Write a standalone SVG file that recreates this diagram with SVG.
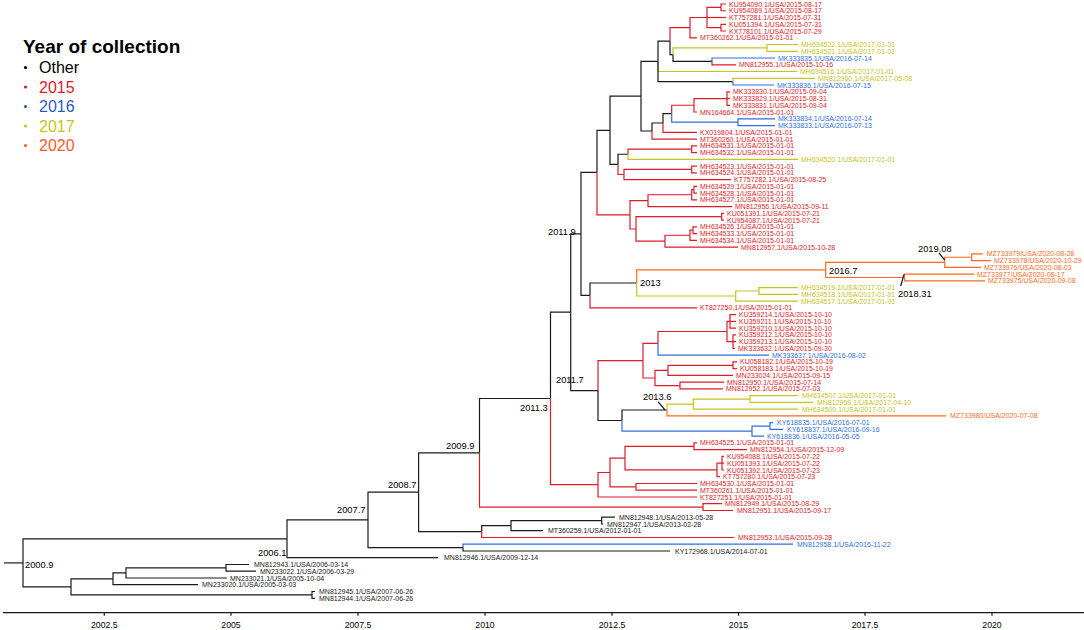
<svg xmlns="http://www.w3.org/2000/svg" width="1084" height="630" viewBox="0 0 1084 630">
<style>
path{fill:none;stroke-width:1.2}
.k{stroke:#1a1a1a}.r{stroke:#dd1c2a}.b{stroke:#2f6fe0}.y{stroke:#c6c41c}.o{stroke:#ff6a1e}
text{font-family:"Liberation Sans",Arial,sans-serif}
.t{font-size:7px}
.tk{fill:#1a1a1a}.tr{fill:#dd1c2a}.tb{fill:#2f6fe0}.ty{fill:#c6c41c}.to{fill:#ff6a1e}
.n{font-size:9.3px;fill:#000}
.ax{font-size:8.7px;fill:#000;text-anchor:middle}
.lg{font-size:16px}
</style>
<g id="legend">
<text x="23" y="53" style="font-size:19px;font-weight:bold">Year of collection</text>
<circle cx="25.5" cy="67.5" r="1.6" fill="#000"/><text class="lg" x="39" y="73" fill="#000">Other</text>
<circle cx="25.5" cy="87" r="1.6" fill="#dd1c2a"/><text class="lg" x="39" y="92.5" fill="#dd1c2a">2015</text>
<circle cx="25.5" cy="106.5" r="1.6" fill="#2a5cc0"/><text class="lg" x="39" y="112" fill="#2a5cc0">2016</text>
<circle cx="25.5" cy="126" r="1.6" fill="#c6c41c"/><text class="lg" x="39" y="131.5" fill="#c6c41c">2017</text>
<circle cx="25.5" cy="145.5" r="1.6" fill="#ff5a1e"/><text class="lg" x="39" y="151" fill="#ff5a1e">2020</text>
</g>
<g id="axis">
<path class="k" d="M3 612.7H1084M104.3 612.7v3M231 612.7v3M358 612.7v3M485 612.7v3M612 612.7v3M738.5 612.7v3M865 612.7v3M992 612.7v3"/>
<text class="ax" x="104.3" y="628">2002.5</text><text class="ax" x="231" y="628">2005</text><text class="ax" x="358" y="628">2007.5</text><text class="ax" x="485" y="628">2010</text><text class="ax" x="612" y="628">2012.5</text><text class="ax" x="738.5" y="628">2015</text><text class="ax" x="865" y="628">2017.5</text><text class="ax" x="992" y="628">2020</text>
</g>
<g id="connectors">
<path class="k" d="M4 562.9H23"/>
<path class="k" d="M23 562.9V538.8H287"/><path class="k" d="M23 562.9V586.9H71"/>
<path class="k" d="M71 586.9V578.8H113"/><path class="k" d="M71 586.9V594.9H312"/>
<path class="k" d="M113 578.8V572.9H126"/><path class="k" d="M113 578.8V584.7H198"/>
<path class="k" d="M126 572.9V567.9H226"/><path class="k" d="M126 572.9V578H227"/>
<path class="k" d="M226 567.9V564.5H249"/><path class="k" d="M226 567.9V571.2H256"/>
<path class="k" d="M312 594.9V591.5H315"/><path class="k" d="M312 594.9V598.3H315"/>
<path class="k" d="M287 538.8V519.9H368"/><path class="k" d="M287 538.8V557.7H438"/>
<path class="k" d="M368 519.9V492.2H418.6"/><path class="k" d="M368 519.9V547.6H463"/>
<path class="b" d="M463 547.6V544.2H793"/><path class="k" d="M463 547.6V551H670"/>
<path class="k" d="M418.6 492.2V452.8H479.5"/><path class="k" d="M418.6 492.2V531.6H481.7"/>
<path class="k" d="M481.7 531.6V525.7H511"/><path class="r" d="M481.7 531.6V537.5H734"/>
<path class="k" d="M511 525.7V520.6H601.7"/><path class="k" d="M511 525.7V530.7H543"/>
<path class="k" d="M601.7 520.6V517.2H615"/><path class="k" d="M601.7 520.6V524H603"/>
<path class="k" d="M479.5 452.8V398.5H550.5"/><path class="r" d="M479.5 452.8V507.1H703"/>
<path class="r" d="M703 507.1V503.7H722"/><path class="r" d="M703 507.1V510.5H733"/>
<path class="k" d="M550.5 398.5V312.2H570.7"/><path class="r" d="M550.5 398.5V484.7H598"/>
<path class="r" d="M598 484.7V472.5H610"/><path class="r" d="M598 484.7V497H697"/>
<path class="r" d="M610 472.5V458.1H625"/><path class="r" d="M610 472.5V486.85H636"/>
<path class="r" d="M636 486.85V483.5H697"/><path class="r" d="M636 486.85V490.2H697"/>
<path class="r" d="M625 458.1V446.3H694"/><path class="r" d="M625 458.1V469.95H717"/>
<path class="r" d="M694 446.3V442.9H697"/><path class="r" d="M694 446.3V449.7H747"/>
<path class="r" d="M717 469.95V463.2H722"/><path class="r" d="M717 469.95V476.7H720"/>
<path class="r" d="M722 463.2V456.4H724"/><path class="r" d="M722 463.2H724"/><path class="r" d="M722 463.2V470H724"/>
<path class="k" d="M570.7 312.2V233.85H581"/><path class="k" d="M570.7 312.2V390.6H598"/>
<path class="r" d="M598 390.6V360.7H643"/><path class="k" d="M598 390.6V420.5H622"/>
<path class="r" d="M643 360.7V343.4H658"/><path class="r" d="M643 360.7V378H655"/>
<path class="r" d="M658 343.4V331.5H727"/><path class="b" d="M658 343.4V355.2H769"/>
<path class="r" d="M727 331.5V321.4H730"/><path class="r" d="M727 331.5V341.6H733"/>
<path class="r" d="M730 321.4V314.6H736"/><path class="r" d="M730 321.4H736"/><path class="r" d="M730 321.4V328.1H736"/>
<path class="r" d="M733 341.6V334.9H736"/><path class="r" d="M733 341.6H736"/><path class="r" d="M733 341.6V348.4H735"/>
<path class="r" d="M655 378V370.4H668"/><path class="r" d="M655 378V385.6H680"/>
<path class="r" d="M668 370.4V365.3H733"/><path class="r" d="M668 370.4V375.4H733"/>
<path class="r" d="M733 365.3V361.9H737"/><path class="r" d="M733 365.3V368.7H737"/>
<path class="r" d="M680 385.6V382.2H724"/><path class="r" d="M680 385.6V388.9H723"/>
<path class="k" d="M622 420.5V410H667"/><path class="b" d="M622 420.5V431.1H752"/>
<path class="y" d="M667 410V404.1H693.3"/><path class="o" d="M667 410V415.9H946"/>
<path class="y" d="M693.3 404.1V399.05H750"/><path class="y" d="M693.3 404.1V409.2H798"/>
<path class="y" d="M750 399.05V395.7H798"/><path class="y" d="M750 399.05V402.4H813"/>
<path class="b" d="M752 431.1V426.05H770"/><path class="b" d="M752 431.1V436.2H764"/>
<path class="b" d="M770 426.05V422.7H773"/><path class="b" d="M770 426.05V429.4H783"/>
<path class="k" d="M581 233.85V172.3H597"/><path class="k" d="M581 233.85V295.4H590"/>
<path class="k" d="M590 295.4V283H636.7"/><path class="r" d="M590 295.4V307.9H697"/>
<path class="o" d="M636.7 283V269.9H825.7"/><path class="y" d="M636.7 283V296H735.7"/>
<path class="y" d="M735.7 296V291H759"/><path class="y" d="M735.7 296V301.1H798"/>
<path class="y" d="M759 291V287.6H798"/><path class="y" d="M759 291V294.4H798"/>
<path class="o" d="M825.7 269.9V262.3H944.7"/><path class="o" d="M825.7 269.9V277.5H904.5"/>
<path class="o" d="M944.7 262.3V257.25H971.7"/><path class="o" d="M944.7 262.3V267.4H981"/>
<path class="o" d="M971.7 257.25V253.9H983"/><path class="o" d="M971.7 257.25V260.6H991"/>
<path class="o" d="M904.5 277.5V274.1H974"/><path class="o" d="M904.5 277.5V280.9H985"/>
<path class="k" d="M597 172.3V130.3H610"/><path class="r" d="M597 172.3V214.85H630"/>
<path class="k" d="M610 130.3V96.2H641"/><path class="k" d="M610 130.3V164.4H618"/>
<path class="k" d="M641 96.2V61.4H658"/><path class="k" d="M641 96.2V131H652"/>
<path class="k" d="M658 61.4V41.1H670"/><path class="y" d="M658 61.4V71.5H797"/><path class="k" d="M658 61.4V81.65H733"/>
<path class="r" d="M670 41.1V27.65H690"/><path class="k" d="M670 41.1V54.65H673"/>
<path class="r" d="M690 27.65V17.5H707"/><path class="r" d="M690 27.65V37.8H697"/>
<path class="r" d="M707 17.5V7.4H721"/><path class="r" d="M707 17.5H726"/><path class="r" d="M707 17.5V27.65H721"/>
<path class="r" d="M721 7.4V4H726"/><path class="r" d="M721 7.4V10.75H726"/>
<path class="r" d="M721 27.65V24.3H726"/><path class="r" d="M721 27.65V31H726"/>
<path class="y" d="M673 54.65V47.9H767"/><path class="k" d="M673 54.65V61.4H712"/>
<path class="y" d="M767 47.9V44.5H798"/><path class="y" d="M767 47.9V51.3H798"/>
<path class="b" d="M712 61.4V58H775"/><path class="r" d="M712 61.4V64.8H736"/>
<path class="y" d="M733 81.65V78.3H815"/><path class="b" d="M733 81.65V85H774"/>
<path class="k" d="M652 131V123H663"/><path class="r" d="M652 131V139.1H697"/>
<path class="k" d="M663 123V113.7H671.7"/><path class="r" d="M663 123V132.3H697"/>
<path class="r" d="M671.7 113.7V105.25H694"/><path class="b" d="M671.7 113.7V122.2H738"/>
<path class="r" d="M694 105.25V98.55H727"/><path class="r" d="M694 105.25V112H697"/>
<path class="r" d="M727 98.55V91.8H730"/><path class="r" d="M727 98.55H730"/><path class="r" d="M727 98.55V105.3H730"/>
<path class="b" d="M738 122.2V118.8H775"/><path class="b" d="M738 122.2V125.6H775"/>
<path class="k" d="M618 164.4V154.25H628"/><path class="r" d="M618 164.4V174.5H624"/>
<path class="r" d="M628 154.25V149.2H691.7"/><path class="y" d="M628 154.25V159.3H798"/>
<path class="r" d="M691.7 149.2V145.8H697"/><path class="r" d="M691.7 149.2V152.6H697"/>
<path class="r" d="M624 174.5V169.45H691.7"/><path class="r" d="M624 174.5V179.6H731"/>
<path class="r" d="M691.7 169.45V166.1H697"/><path class="r" d="M691.7 169.45V172.8H697"/>
<path class="r" d="M630 214.85V200.7H648"/><path class="r" d="M630 214.85V229H636"/>
<path class="r" d="M648 200.7V194.75H691.7"/><path class="r" d="M648 200.7V206.6H732"/>
<path class="r" d="M691.7 194.75V189.7H694"/><path class="r" d="M691.7 194.75V199.8H697"/>
<path class="r" d="M694 189.7V186.3H697"/><path class="r" d="M694 189.7V193.1H697"/>
<path class="r" d="M636 229V216.7H721.7"/><path class="r" d="M636 229V241.2H665"/>
<path class="r" d="M721.7 216.7V213.3H724"/><path class="r" d="M721.7 216.7V220.1H724"/>
<path class="r" d="M665 241.2V235.25H690"/><path class="r" d="M665 241.2V247.1H738"/>
<path class="r" d="M690 235.25V230.2H693"/><path class="r" d="M690 235.25V240.3H697"/>
<path class="r" d="M693 230.2V226.8H697"/><path class="r" d="M693 230.2V233.6H697"/>
<path class="k" d="M939 253L944.7 260"/><path class="k" d="M904 274.3L900.7 286"/><path class="k" d="M658 401.7L665 410"/>
</g>
<g id="node-labels" class="n">
<text class="n" x="25" y="567.5">2000.9</text>
<text class="n" x="258" y="556">2006.1</text>
<text class="n" x="337" y="513">2007.7</text>
<text class="n" x="388" y="488">2008.7</text>
<text class="n" x="446" y="449">2009.9</text>
<text class="n" x="520" y="411">2011.3</text>
<text class="n" x="556" y="383">2011.7</text>
<text class="n" x="548" y="235">2011.9</text>
<text class="n" x="640" y="286">2013</text>
<text class="n" x="829" y="274">2016.7</text>
<text class="n" x="918" y="251.6">2019.08</text>
<text class="n" x="898" y="296.6">2018.31</text>
<text class="n" x="643" y="400">2013.6</text>
</g>
<g id="tips" class="t">
<g id="t1"><text class="t tr" x="729" y="6.5">KU954090.1/USA/2015-08-17</text></g>
<g id="t2"><text class="t tr" x="729" y="13.25">KU954089.1/USA/2015-08-17</text></g>
<g id="t3"><text class="t tr" x="729" y="20">KT757281.1/USA/2015-07-31</text></g>
<g id="t4"><text class="t tr" x="729" y="26.8">KU051394.1/USA/2015-07-31</text></g>
<g id="t5"><text class="t tr" x="729" y="33.5">KX778101.1/USA/2015-07-29</text></g>
<g id="t6"><text class="t tr" x="700" y="40.3">MT360262.1/USA/2015-01-01</text></g>
<g id="t7"><text class="t ty" x="801" y="47">MH634522.1/USA/2017-01-01</text></g>
<g id="t8"><text class="t ty" x="801" y="53.8">MH634521.1/USA/2017-01-01</text></g>
<g id="t9"><text class="t tb" x="778" y="60.5">MK333835.1/USA/2016-07-14</text></g>
<g id="t10"><text class="t tr" x="739" y="67.3">MN812955.1/USA/2015-10-16</text></g>
<g id="t11"><text class="t ty" x="800" y="74">MH634516.1/USA/2017-01-01</text></g>
<g id="t12"><text class="t ty" x="818" y="80.8">MN812960.1/USA/2017-05-08</text></g>
<g id="t13"><text class="t tb" x="777" y="87.5">MK333836.1/USA/2016-07-15</text></g>
<g id="t14"><text class="t tr" x="733" y="94.3">MK333830.1/USA/2015-09-04</text></g>
<g id="t15"><text class="t tr" x="733" y="101">MK333829.1/USA/2015-08-31</text></g>
<g id="t16"><text class="t tr" x="733" y="107.8">MK333831.1/USA/2015-09-04</text></g>
<g id="t17"><text class="t tr" x="700" y="114.5">MN164664.1/USA/2015-01-01</text></g>
<g id="t18"><text class="t tb" x="778" y="121.3">MK333834.1/USA/2016-07-14</text></g>
<g id="t19"><text class="t tb" x="778" y="128.1">MK333833.1/USA/2016-07-13</text></g>
<g id="t20"><text class="t tr" x="700" y="134.8">KX019804.1/USA/2015-01-01</text></g>
<g id="t21"><text class="t tr" x="700" y="141.6">MT360260.1/USA/2015-01-01</text></g>
<g id="t22"><text class="t tr" x="700" y="148.3">MH634531.1/USA/2015-01-01</text></g>
<g id="t23"><text class="t tr" x="700" y="155.1">MH634532.1/USA/2015-01-01</text></g>
<g id="t24"><text class="t ty" x="801" y="161.8">MH634520.1/USA/2017-01-01</text></g>
<g id="t25"><text class="t tr" x="700" y="168.6">MH634523.1/USA/2015-01-01</text></g>
<g id="t26"><text class="t tr" x="700" y="175.3">MH634524.1/USA/2015-01-01</text></g>
<g id="t27"><text class="t tr" x="734" y="182.1">KT757282.1/USA/2015-08-25</text></g>
<g id="t28"><text class="t tr" x="700" y="188.8">MH634529.1/USA/2015-01-01</text></g>
<g id="t29"><text class="t tr" x="700" y="195.6">MH634528.1/USA/2015-01-01</text></g>
<g id="t30"><text class="t tr" x="700" y="202.3">MH634527.1/USA/2015-01-01</text></g>
<g id="t31"><text class="t tr" x="735" y="209.1">MN812956.1/USA/2015-09-11</text></g>
<g id="t32"><text class="t tr" x="727" y="215.8">KU051391.1/USA/2015-07-21</text></g>
<g id="t33"><text class="t tr" x="727" y="222.6">KU954087.1/USA/2015-07-21</text></g>
<g id="t34"><text class="t tr" x="700" y="229.3">MH634526.1/USA/2015-01-01</text></g>
<g id="t35"><text class="t tr" x="700" y="236.1">MH634533.1/USA/2015-01-01</text></g>
<g id="t36"><text class="t tr" x="700" y="242.8">MH634534.1/USA/2015-01-01</text></g>
<g id="t37"><text class="t tr" x="741" y="249.6">MN812957.1/USA/2015-10-28</text></g>
<g id="t38"><text class="t to" x="986.7" y="256.4">MZ733979/USA/2020-08-28</text></g>
<g id="t39"><text class="t to" x="994" y="263.1">MZ733978/USA/2020-10-29</text></g>
<g id="t40"><text class="t to" x="984" y="269.9">MZ733976/USA/2020-08-03</text></g>
<g id="t41"><text class="t to" x="977" y="276.6">MZ733977/USA/2020-08-17</text></g>
<g id="t42"><text class="t to" x="988" y="283.4">MZ733975/USA/2020-09-08</text></g>
<g id="t43"><text class="t ty" x="801" y="290.1">MH634519.1/USA/2017-01-01</text></g>
<g id="t44"><text class="t ty" x="801" y="296.9">MH634518.1/USA/2017-01-01</text></g>
<g id="t45"><text class="t ty" x="801" y="303.6">MH634517.1/USA/2017-01-01</text></g>
<g id="t46"><text class="t tr" x="700" y="310.4">KT827250.1/USA/2015-01-01</text></g>
<g id="t47"><text class="t tr" x="739" y="317.1">KU359214.1/USA/2015-10-10</text></g>
<g id="t48"><text class="t tr" x="739" y="323.9">KU359211.1/USA/2015-10-10</text></g>
<g id="t49"><text class="t tr" x="739" y="330.6">KU359210.1/USA/2015-10-10</text></g>
<g id="t50"><text class="t tr" x="739" y="337.4">KU359212.1/USA/2015-10-10</text></g>
<g id="t51"><text class="t tr" x="739" y="344.1">KU359213.1/USA/2015-10-10</text></g>
<g id="t52"><text class="t tr" x="738" y="350.9">MK333632.1/USA/2015-09-30</text></g>
<g id="t53"><text class="t tb" x="772" y="357.7">MK333637.1/USA/2016-08-02</text></g>
<g id="t54"><text class="t tr" x="740" y="364.4">KU058182.1/USA/2015-10-19</text></g>
<g id="t55"><text class="t tr" x="740" y="371.2">KU058183.1/USA/2015-10-19</text></g>
<g id="t56"><text class="t tr" x="736" y="377.9">MN233024.1/USA/2015-09-15</text></g>
<g id="t57"><text class="t tr" x="727" y="384.7">MN812950.1/USA/2015-07-14</text></g>
<g id="t58"><text class="t tr" x="726" y="391.4">MN812952.1/USA/2015-07-03</text></g>
<g id="t59"><text class="t ty" x="802" y="398.2">MH634507.1/USA/2017-01-01</text></g>
<g id="t60"><text class="t ty" x="817" y="404.9">MN812959.1/USA/2017-04-10</text></g>
<g id="t61"><text class="t ty" x="802" y="411.7">MH634509.1/USA/2017-01-01</text></g>
<g id="t62"><text class="t to" x="950" y="418.4">MZ733980/USA/2020-07-08</text></g>
<g id="t63"><text class="t tb" x="777" y="425.2">KY618835.1/USA/2016-07-01</text></g>
<g id="t64"><text class="t tb" x="787" y="431.9">KY618837.1/USA/2016-09-16</text></g>
<g id="t65"><text class="t tb" x="767" y="438.7">KY618836.1/USA/2016-05-05</text></g>
<g id="t66"><text class="t tr" x="700" y="445.4">MH634525.1/USA/2015-01-01</text></g>
<g id="t67"><text class="t tr" x="750" y="452.2">MN812954.1/USA/2015-12-09</text></g>
<g id="t68"><text class="t tr" x="727" y="458.9">KU954088.1/USA/2015-07-22</text></g>
<g id="t69"><text class="t tr" x="727" y="465.7">KU051393.1/USA/2015-07-22</text></g>
<g id="t70"><text class="t tr" x="727" y="472.5">KU051392.1/USA/2015-07-23</text></g>
<g id="t71"><text class="t tr" x="723" y="479.2">KT757280.1/USA/2015-07-23</text></g>
<g id="t72"><text class="t tr" x="700" y="486">MH634530.1/USA/2015-01-01</text></g>
<g id="t73"><text class="t tr" x="700" y="492.7">MT360261.1/USA/2015-01-01</text></g>
<g id="t74"><text class="t tr" x="700" y="499.5">KT827251.1/USA/2015-01-01</text></g>
<g id="t75"><text class="t tr" x="725" y="506.2">MN812949.1/USA/2015-08-29</text></g>
<g id="t76"><text class="t tr" x="737" y="513">MN812951.1/USA/2015-09-17</text></g>
<g id="t77"><text class="t tk" x="619" y="519.7">MN812948.1/USA/2013-05-28</text></g>
<g id="t78"><text class="t tk" x="607" y="526.5">MN812947.1/USA/2013-02-28</text></g>
<g id="t79"><text class="t tk" x="548" y="533.2">MT360259.1/USA/2012-01-01</text></g>
<g id="t80"><text class="t tr" x="738" y="540">MN812953.1/USA/2015-09-28</text></g>
<g id="t81"><text class="t tb" x="797" y="546.7">MN812958.1/USA/2016-11-22</text></g>
<g id="t82"><text class="t tk" x="675" y="553.5">KY172968.1/USA/2014-07-01</text></g>
<g id="t83"><text class="t tk" x="444" y="560.2">MN812946.1/USA/2009-12-14</text></g>
<g id="t84"><text class="t tk" x="254" y="567">MN812943.1/USA/2006-03-14</text></g>
<g id="t85"><text class="t tk" x="260" y="573.7">MN233022.1/USA/2006-03-29</text></g>
<g id="t86"><text class="t tk" x="230" y="580.5">MN233021.1/USA/2005-10-04</text></g>
<g id="t87"><text class="t tk" x="202" y="587.2">MN233020.1/USA/2005-03-03</text></g>
<g id="t88"><text class="t tk" x="319" y="594">MN812945.1/USA/2007-06-26</text></g>
<g id="t89"><text class="t tk" x="319" y="600.8">MN812944.1/USA/2007-06-26</text></g>
</g>
</svg>
